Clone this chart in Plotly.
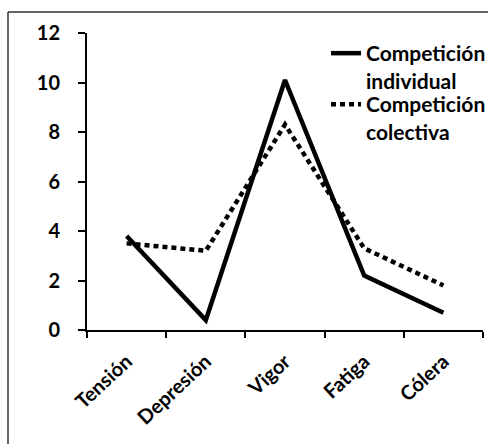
import plotly.graph_objects as go

categories = ["Tensión", "Depresión", "Vigor", "Fatiga", "Cólera"]
individual = [3.8, 0.4, 10.1, 2.2, 0.7]
colectiva = [3.5, 3.2, 8.3, 3.3, 1.8]
series_names = ["Competición<br>individual", "Competición<br>colectiva"]
y_ticks = [0, 2, 4, 6, 8, 10, 12]

W, H = 489, 445
L, R, T, B = 87, 6, 33, 115
pw, ph = W - L - R, H - T - B

font_family = "Lato, Open Sans, sans-serif"
legend_font = dict(family=font_family, size=21, color="black", weight="bold")

fig = go.Figure()
fig.add_trace(go.Scatter(x=categories, y=individual, mode="lines", name=series_names[0],
                         line=dict(color="black", width=4.5), legend="legend"))
fig.add_trace(go.Scatter(x=categories, y=colectiva, mode="lines", name=series_names[1],
                         line=dict(color="black", width=4.5, dash="5px,4px"), legend="legend2"))

fig.update_layout(
    width=W, height=H,
    margin=dict(l=L, r=R, t=T, b=B, autoexpand=False),
    paper_bgcolor="white", plot_bgcolor="white",
    showlegend=True,
    legend=dict(x=(326 - L) / pw, y=1 - (33 - T) / ph, xanchor="left", yanchor="top",
                font=legend_font, bgcolor="rgba(0,0,0,0)", itemwidth=30, valign="top"),
    legend2=dict(x=(326 - L) / pw, y=1 - (84 - T) / ph, xanchor="left", yanchor="top",
                 font=legend_font, bgcolor="rgba(0,0,0,0)", itemwidth=30, valign="top"),
    xaxis=dict(range=[-0.5, 4.5], showline=True, linecolor="black", linewidth=2,
               ticks="outside", tickson="boundaries", ticklen=6, tickwidth=2, tickcolor="black",
               tickangle=-43, showgrid=False, zeroline=False, automargin=False,
               ticklabelstandoff=10,
               tickfont=dict(family=font_family, size=20, color="black", weight="bold")),
    yaxis=dict(range=[0, 12], tickvals=y_ticks, showline=True, linecolor="black", linewidth=2,
               ticks="outside", ticklen=7, tickwidth=2, tickcolor="black",
               showgrid=False, zeroline=False, automargin=False, ticklabelstandoff=14,
               tickfont=dict(family=font_family, size=20, color="black", weight="bold")),
)

# outer frame (left and top edges visible)
fx0, fy1 = (8 - L) / pw, 1 + (T - 12) / ph
fig.add_shape(type="line", xref="paper", yref="paper",
              x0=fx0, x1=fx0, y0=-(H - 1 - T - ph) / ph, y1=fy1,
              line=dict(color="#333333", width=1.5), layer="above")
fig.add_shape(type="line", xref="paper", yref="paper",
              x0=fx0, x1=(W - 1 - L) / pw, y0=fy1, y1=fy1,
              line=dict(color="#333333", width=1.5), layer="above")

fig.write_html("out.html", config={"displayModeBar": False},
               post_script="document.body.style.margin='0';document.body.style.overflow='hidden';")
